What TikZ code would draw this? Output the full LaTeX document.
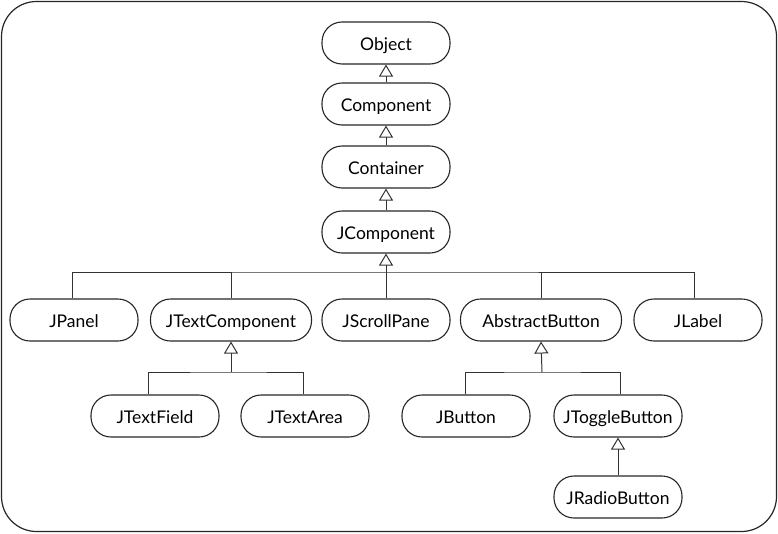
\documentclass[tikz,border=0pt]{standalone}
\usepackage{fontspec}
\setmainfont{Lato}
\usetikzlibrary{arrows.meta}
\begin{document}
\begin{tikzpicture}[x=1pt,y=-1pt,
  cls/.style={draw=black!85, line width=1.1pt, rounded corners=20pt, minimum height=42pt, inner sep=0pt, text height=14pt, text depth=0pt, font=\fontsize{17.5}{20}\selectfont, text=black},
  w128/.style={cls, minimum width=128pt},
  w161/.style={cls, minimum width=161pt},
  link/.style={draw=black!80, line width=1pt},
  inh/.style={link, -{Triangle[open, length=12pt, width=14pt, line width=1pt]}}
]
\useasboundingbox (0,0) rectangle (778,533);
\draw[line width=1.2pt, draw=black!85, rounded corners=35pt] (1.5,1.5) rectangle (776.5,531.5);

\node[w128] (obj) at (386,43) {Object};
\node[w128] (comp) at (386,104) {Component};
\node[w128] (cont) at (386,167) {Container};
\node[w128] (jcomp) at (386,232) {JComponent};

\node[w128] (jpanel) at (74,320) {JPanel};
\node[w161] (jtc) at (231,320) {JTextComponent};
\node[w128] (jsp) at (386,320) {JScrollPane};
\node[w161] (ab) at (541,320) {AbstractButton};
\node[w128] (jlabel) at (698,320) {JLabel};

\node[w128] (jtf) at (155,416) {JTextField};
\node[w128] (jta) at (305,416) {JTextArea};
\node[w128] (jbtn) at (466,416) {JButton};
\node[w128] (jtb) at (618,416) {JToggleButton};
\node[w128] (jrb) at (618,497) {JRadioButton};

\draw[inh] (comp.north) -- (obj.south);
\draw[inh] (cont.north) -- (comp.south);
\draw[inh] (jcomp.north) -- (cont.south);

% JComponent bus
\coordinate (b1) at (386,272);
\draw[inh] (b1) -- (jcomp.south);
\draw[link] ([xshift=-2pt]jpanel.north) |- (b1) -| ([xshift=-4pt]jlabel.north);
\draw[link] (jtc.north) -- (jtc.north |- b1);
\draw[link] (jsp.north) -- (b1);
\draw[link] (ab.north) -- (ab.north |- b1);

% JTextComponent bus
\coordinate (b2) at (231,372);
\draw[inh] (b2) -- (jtc.south);
\draw[link] ([xshift=-7pt]jtf.north) |- (b2) -| ([xshift=-2pt]jta.north);

% AbstractButton bus
\coordinate (b3) at (542,372);
\draw[inh] (b3) -- (ab.south);
\draw[link] ([xshift=-1pt]jbtn.north) |- (b3) -| ([xshift=2pt]jtb.north);

\draw[inh] (jrb.north) -- (jtb.south);
\end{tikzpicture}
\end{document}
